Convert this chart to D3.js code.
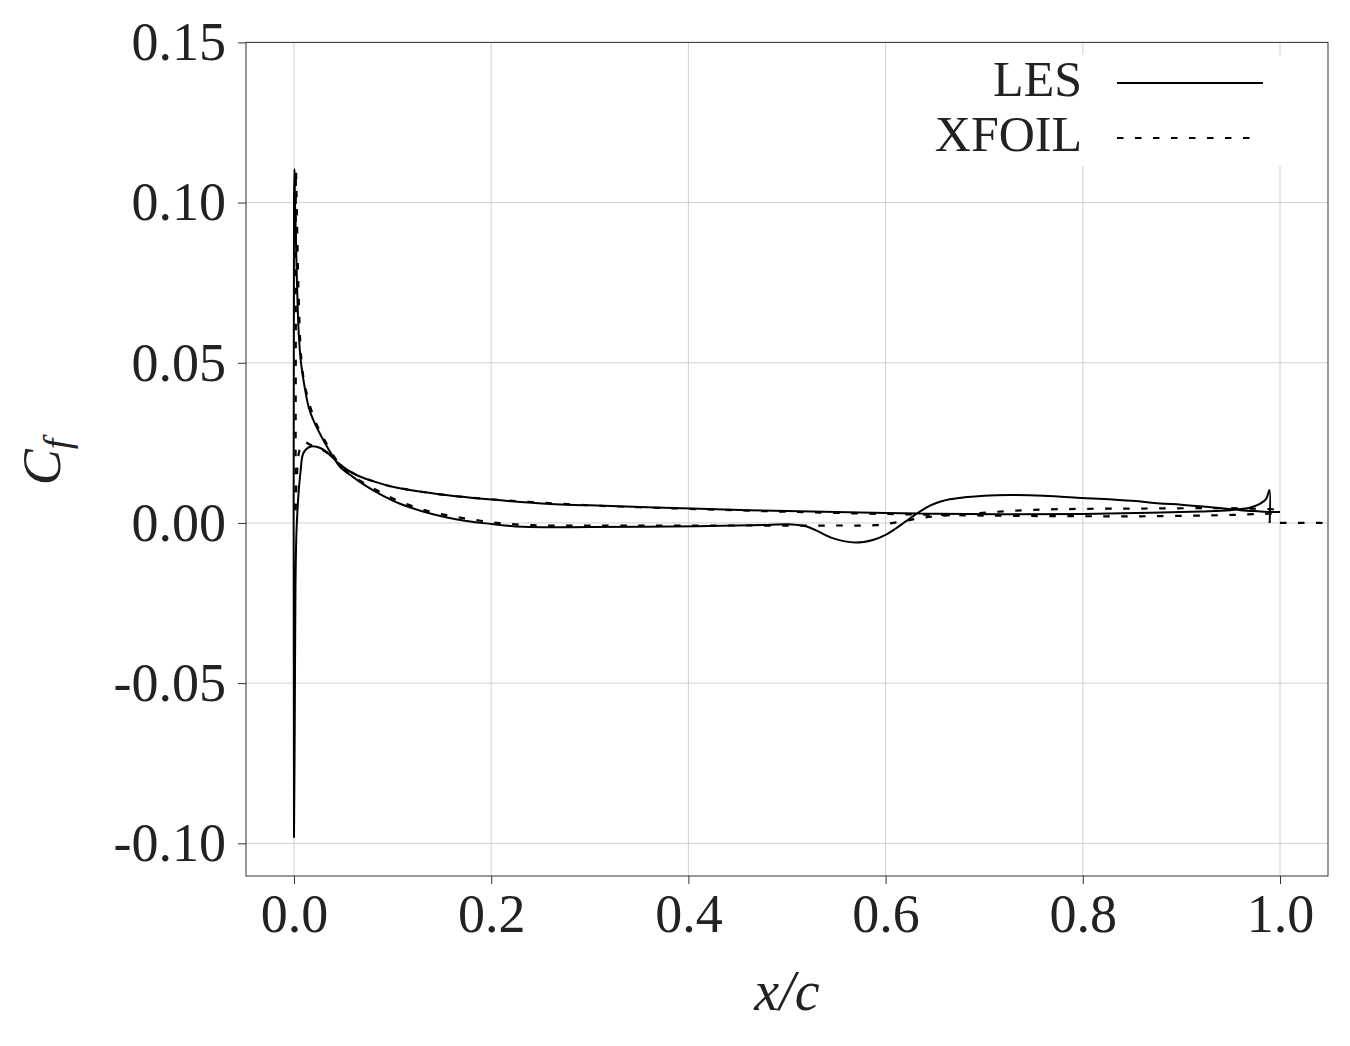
<!DOCTYPE html>
<html>
<head>
<meta charset="utf-8">
<script src="https://cdn.jsdelivr.net/npm/d3@7"></script>
<style>
html, body { margin: 0; padding: 0; background: #fff; }
svg { display: block; }
text { font-family: "Liberation Serif", "DejaVu Serif", serif; fill: #222; }
</style>
</head>
<body>
<svg id="chart" width="1350" height="1046"></svg>
<script>
// ---------- data ----------
const xTicks = [0.0, 0.2, 0.4, 0.6, 0.8, 1.0];
const xTickLabels = ["0.0", "0.2", "0.4", "0.6", "0.8", "1.0"];
const yTicks = [-0.10, -0.05, 0.00, 0.05, 0.10, 0.15];
const yTickLabels = ["-0.10", "-0.05", "0.00", "0.05", "0.10", "0.15"];
const seriesNames = ["LES", "XFOIL"];

// LES: one continuous curve, suction-side TE -> LE -> pressure-side TE
const lesX = [1.0, 0.99, 0.98, 0.96, 0.93, 0.90, 0.878, 0.85, 0.80, 0.76, 0.726, 0.70, 0.68, 0.665, 0.655, 0.645, 0.632, 0.62, 0.61, 0.60, 0.587, 0.569, 0.547, 0.53, 0.52, 0.51, 0.50, 0.48, 0.41, 0.30, 0.232, 0.20, 0.175, 0.141, 0.1075, 0.086, 0.0737, 0.06, 0.047, 0.04, 0.0297, 0.0196, 0.015, 0.011, 0.0071, 0.005, 0.004, 0.003, 0.002, 0.001, 0.0005, 0.0, 0.0, 0.0008, 0.0015, 0.0025, 0.0044, 0.0068, 0.0094, 0.0162, 0.023, 0.033, 0.045, 0.06, 0.0737, 0.086, 0.1, 0.154, 0.2, 0.26, 0.3, 0.412, 0.5, 0.6, 0.716, 0.8, 0.868, 0.92, 0.95, 0.97, 0.98, 0.986, 0.9893, 0.9895];
const lesCf = [0.0034, 0.0034, 0.0036, 0.0040, 0.0049, 0.0057, 0.0061, 0.0069, 0.0078, 0.0085, 0.0087, 0.0085, 0.0080, 0.0074, 0.0066, 0.0054, 0.0030, 0.0004, -0.0018, -0.0037, -0.0053, -0.0061, -0.0048, -0.0024, -0.0011, -0.0006, -0.0004, -0.0006, -0.0010, -0.0013, -0.0012, -0.0003, 0.0006, 0.0027, 0.0060, 0.0092, 0.0114, 0.0143, 0.0174, 0.0205, 0.0259, 0.0321, 0.0360, 0.0420, 0.0500, 0.0580, 0.0650, 0.0750, 0.0880, 0.1000, 0.1105, 0.1000, -0.0980, -0.0600, -0.0200, -0.0030, 0.0082, 0.0165, 0.0217, 0.0238, 0.0238, 0.0222, 0.0186, 0.0155, 0.0137, 0.0125, 0.0113, 0.0087, 0.0073, 0.0059, 0.0055, 0.0044, 0.0037, 0.0031, 0.0027, 0.0028, 0.0032, 0.0036, 0.0040, 0.0048, 0.0060, 0.0075, 0.0103, 0.0000];

// XFOIL suction side (LE -> TE)
const xfSucX = [0.0015, 0.0018, 0.002, 0.003, 0.004, 0.005, 0.0075, 0.011, 0.02, 0.03, 0.047, 0.06, 0.075, 0.087, 0.104, 0.124, 0.141, 0.162, 0.18, 0.199, 0.217, 0.236, 0.256, 0.35, 0.45, 0.55, 0.59, 0.615, 0.635, 0.655, 0.693, 0.713, 0.75, 0.80, 0.86, 0.95, 0.99, 1.0];
const xfSucCf = [0.004, 0.05, 0.110, 0.095, 0.080, 0.068, 0.051, 0.043, 0.033, 0.0265, 0.018, 0.0146, 0.0117, 0.0097, 0.0071, 0.0048, 0.0033, 0.0020, 0.0011, 0.0003, -0.0003, -0.0006, -0.0008, -0.0008, -0.0008, -0.0008, -0.0007, 0.0004, 0.0015, 0.0022, 0.0030, 0.0035, 0.0041, 0.0044, 0.0045, 0.0046, 0.0043, 0.0042];
// XFOIL pressure side (LE -> TE)
const xfPreX = [0.0015, 0.003, 0.005, 0.008, 0.011, 0.016, 0.023, 0.033, 0.045, 0.06, 0.086, 0.1, 0.154, 0.2, 0.3, 0.412, 0.5, 0.6, 0.7, 0.8, 0.87, 0.95, 0.98, 1.0];
const xfPreCf = [0.004, 0.015, 0.022, 0.0248, 0.0252, 0.0245, 0.0236, 0.0220, 0.0186, 0.0155, 0.0125, 0.0113, 0.0087, 0.0074, 0.0055, 0.0043, 0.0035, 0.0028, 0.0023, 0.0021, 0.0021, 0.0025, 0.0028, 0.0030];
// XFOIL wake
const xfWakeX = [1.0, 1.08];
const xfWakeCf = [0.0, 0.0];

// ---------- layout ----------
const svg = d3.select("#chart");
const L = 246, R = 1328, T = 42.4, B = 876;
const x = d3.scaleLinear().domain([-0.04868, 1.04868]).range([L, R]);
const y = d3.scaleLinear().domain([-0.1102, 0.15]).range([B, T]);

svg.append("defs").append("clipPath").attr("id", "clip")
  .append("rect").attr("x", L).attr("y", T).attr("width", R - L).attr("height", B - T);

// grid
const grid = svg.append("g").attr("stroke", "#d0d0d0").attr("stroke-width", 1);
grid.selectAll(".gx").data(xTicks).join("line")
  .attr("x1", d => x(d)).attr("x2", d => x(d)).attr("y1", T).attr("y2", B);
grid.selectAll(".gy").data(yTicks).join("line")
  .attr("x1", L).attr("x2", R).attr("y1", d => y(d)).attr("y2", d => y(d));

// curves
const line = d3.line().x(d => x(d[0])).y(d => y(d[1])).curve(d3.curveCatmullRom.alpha(0.5));
const plot = svg.append("g").attr("clip-path", "url(#clip)").attr("fill", "none").attr("stroke", "#000");
plot.append("path").datum(lesX.map((v, i) => [v, lesCf[i]]))
  .attr("d", line).attr("stroke-width", 2).attr("stroke-linejoin", "round");
const dash = "6.5,11.5";
plot.append("path").datum(xfSucX.map((v, i) => [v, xfSucCf[i]]))
  .attr("d", line).attr("stroke-width", 2.2).attr("stroke-dasharray", dash);
plot.append("path").datum(xfPreX.map((v, i) => [v, xfPreCf[i]]))
  .attr("d", line).attr("stroke-width", 2.2).attr("stroke-dasharray", dash);
plot.append("path").datum(xfWakeX.map((v, i) => [v, xfWakeCf[i]]))
  .attr("d", line).attr("stroke-width", 2.2).attr("stroke-dasharray", dash);

// legend
const lg = svg.append("g");
lg.append("rect").attr("x", 905).attr("y", 55).attr("width", 395).attr("height", 111).attr("fill", "#fff");
const legY = [83, 138];
seriesNames.forEach((name, i) => {
  lg.append("text").attr("x", 1082).attr("y", legY[i] + 13).attr("text-anchor", "end")
    .attr("font-size", 50).text(name);
  lg.append("line").attr("x1", 1117).attr("x2", i === 0 ? 1263 : 1258)
    .attr("y1", legY[i]).attr("y2", legY[i]).attr("stroke", "#000")
    .attr("stroke-width", i === 0 ? 2 : 2.2).attr("stroke-dasharray", i === 0 ? null : dash);
});

// axes frame
svg.append("rect").attr("x", L).attr("y", T).attr("width", R - L).attr("height", B - T)
  .attr("fill", "none").attr("stroke", "#333").attr("stroke-width", 1);

const xAxis = d3.axisBottom(x).tickValues(xTicks).tickFormat((d, i) => xTickLabels[i]).tickSize(8).tickPadding(10);
const gx = svg.append("g").attr("transform", `translate(0,${B})`).call(xAxis);
gx.select(".domain").remove();
gx.selectAll("line").attr("stroke", "#333");
gx.selectAll("text").attr("font-size", 54).attr("fill", "#222").attr("font-family", "Liberation Serif, serif");

const yAxis = d3.axisLeft(y).tickValues(yTicks).tickFormat((d, i) => yTickLabels[i]).tickSize(8).tickPadding(12);
const gy = svg.append("g").attr("transform", `translate(${L},0)`).call(yAxis);
gy.select(".domain").remove();
gy.selectAll("line").attr("stroke", "#333");
gy.selectAll("text").attr("font-size", 54).attr("fill", "#222").attr("font-family", "Liberation Serif, serif");

// axis titles
const xt = svg.append("text").attr("x", 787).attr("y", 1010).attr("text-anchor", "middle")
  .attr("font-size", 56).attr("font-style", "italic");
xt.append("tspan").text("x/c");

const yt = svg.append("text").attr("transform", "translate(60,462) rotate(-90)")
  .attr("text-anchor", "middle").attr("font-size", 54).attr("font-style", "italic");
yt.append("tspan").text("C");
yt.append("tspan").attr("font-size", 38).attr("dy", 10).text("f");
</script>
</body>
</html>
